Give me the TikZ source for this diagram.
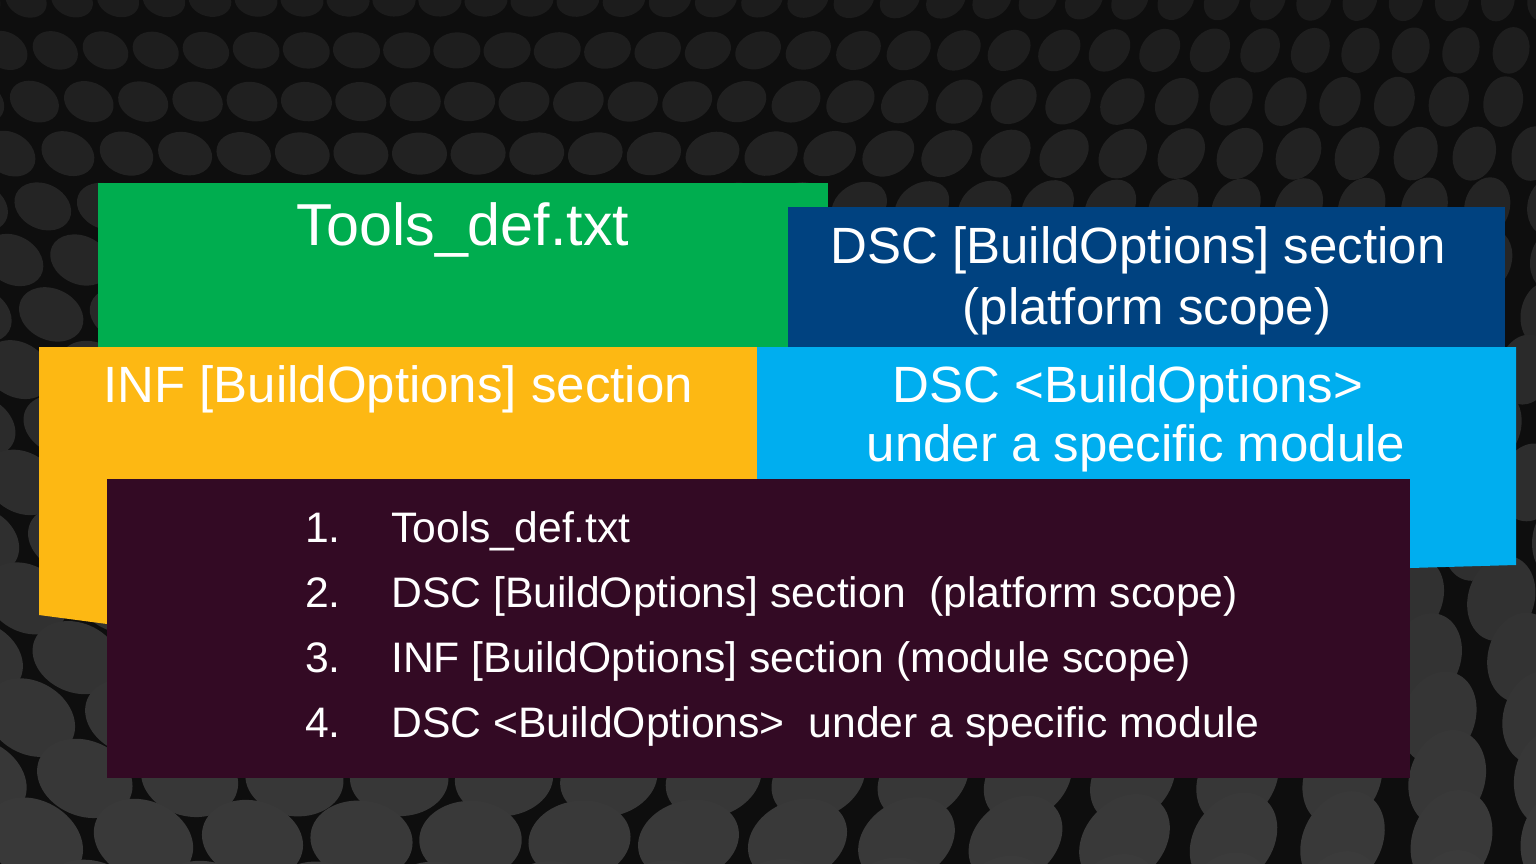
\documentclass[tikz,border=0pt]{standalone}
\usepackage{fontspec}
\setmainfont{Liberation Sans}
\begin{document}
\begin{tikzpicture}[x=0.75pt,y=-0.75pt,
  panel/.style={draw=none},
  txt/.style={inner sep=0pt,text=white,anchor=base},
  title/.style={txt,font=\fontsize{38.25pt}{45pt}\selectfont},
  bigtitle/.style={txt,font=\fontsize{44.4pt}{50pt}\selectfont},
  item/.style={txt,anchor=base west,font=\fontsize{32pt}{38pt}\selectfont}]
\definecolor{bgdark}{RGB}{14,14,14}
\definecolor{cgreen}{RGB}{0,173,79}
\definecolor{cnavy}{RGB}{0,66,128}
\definecolor{cyellow}{RGB}{253,184,19}
\definecolor{ccyan}{RGB}{0,174,239}
\definecolor{cmaroon}{RGB}{51,10,36}
\useasboundingbox (0,0) rectangle (1536,864);
% textured backdrop of tilted discs, growing towards the bottom
\fill[bgdark] (0,0) rectangle (1536,864);
\begin{scope}
\clip (0,0) rectangle (1536,864);
\foreach \r in {0,...,17}{
  \pgfmathsetmacro{\lev}{11+\r*0.75}
  \pgfmathsetmacro{\sp}{46+\r*4.2}
  \pgfmathsetmacro{\py}{\r*50+\r*\r*0.4}
  \pgfmathsetmacro{\ry}{\sp*0.36}
  \pgfmathsetmacro{\rx}{\sp*0.47}
  \foreach \c in {0,...,34}{
    \pgfmathsetmacro{\px}{\c*\sp+mod(\r,2)*\sp*0.5-20}
    \pgfmathsetmacro{\tilt}{-30+\c*\sp*0.07}
    \fill[white!\lev!black,rotate around={\tilt:(\px,\py)}] (\px,\py) ellipse [x radius=\rx, y radius=\ry];
  }
}
\end{scope}
% coloured panels, back to front
\fill[panel,cgreen] (98,183) rectangle (828,360);
\fill[panel,cnavy] (788,207) rectangle (1505,360);
\fill[panel,cyellow] (39,347) -- (757,347) -- (757,625) -- (107,624) -- (39,615) -- cycle;
\fill[panel,ccyan] (757,347) -- (1516,347) -- (1516,565) -- (1410,568) -- (757,575) -- cycle;
\fill[panel,cmaroon] (107,479) rectangle (1410,778);
% panel titles
\node[bigtitle] (tools) at (463,245) {Tools\_def.txt};
\node[title] (dscA) at (1138,263) {DSC [BuildOptions] section};
\node[title] (dscB) at (1147,324) {(platform scope)};
\node[title] (inf) at (398,402) {INF [BuildOptions] section};
\node[title] (modA) at (1128,402) {DSC <BuildOptions>};
\node[title] (modB) at (1136,461) {under a specific module};
% precedence list
\node[item] (n1) at (305,542) {1.};
\node[item] (t1) at (391,542) {Tools\_def.txt};
\node[item] (n2) at (305,607) {2.};
\node[item] (t2) at (391,607) {DSC [BuildOptions] section\ \ (platform scope)};
\node[item] (n3) at (305,672) {3.};
\node[item] (t3) at (391,672) {INF [BuildOptions] section (module scope)};
\node[item] (n4) at (305,737) {4.};
\node[item] (t4) at (391,737) {DSC <BuildOptions>\ \ under a specific module};
\end{tikzpicture}
\end{document}
